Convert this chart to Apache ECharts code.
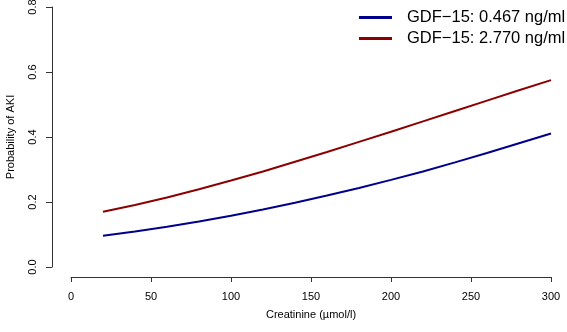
<!DOCTYPE html>
<html>
<head>
<meta charset="utf-8">
<script src="https://cdn.jsdelivr.net/npm/echarts@6/dist/echarts.min.js"></script>
<style>
  html, body { margin: 0; padding: 0; background: #fff; }
  #chart { width: 567px; height: 332px; }
</style>
</head>
<body>
<div id="chart"></div>
<script>
// creatinine values (umol/l) where the curves were read
var creatinine = [20, 40, 60, 80, 100, 120, 140, 160, 180, 200, 220, 240, 260, 280, 300];
// predicted probability of AKI for each GDF-15 level
var probLow  = [0.096, 0.109, 0.124, 0.140, 0.158, 0.177, 0.198, 0.220, 0.243, 0.268, 0.294, 0.322, 0.351, 0.381, 0.411];
var probHigh = [0.170, 0.191, 0.214, 0.239, 0.266, 0.294, 0.324, 0.354, 0.385, 0.416, 0.448, 0.480, 0.512, 0.544, 0.575];
var seriesNames = ['GDF\u221215: 0.467 ng/ml', 'GDF\u221215: 2.770 ng/ml'];
var seriesColors = ['#00008b', '#8b0000'];

var font = 'Liberation Sans, Arial, sans-serif';
var axisColor = '#333';

function pairs(xs, ys) {
  var out = [];
  for (var i = 0; i < xs.length; i++) {
    out.push([xs[i], ys[i]]);
  }
  return out;
}

var myChart = echarts.init(document.getElementById('chart'));
myChart.setOption({
  animation: false,
  backgroundColor: '#fff',
  grid: { left: 71, right: 16, top: 7, bottom: 65, outerBoundsMode: 'none' },
  legend: {
    orient: 'vertical',
    left: 359,
    top: 7,
    padding: 0,
    itemGap: 0,
    itemWidth: 33,
    itemHeight: 3,
    icon: 'rect',
    textStyle: {
      fontFamily: font,
      fontSize: 16.5,
      color: '#000',
      lineHeight: 21,
      padding: [0, 0, 0, 10]
    },
    data: seriesNames
  },
  xAxis: {
    type: 'value',
    min: 0,
    max: 300,
    interval: 50,
    offset: 10,
    name: 'Creatinine (\u00b5mol/l)',
    nameLocation: 'middle',
    nameGap: 32,
    nameMoveOverlap: false,
    nameTextStyle: { fontFamily: font, fontSize: 11, color: '#000' },
    axisLine: { show: true, onZero: false, lineStyle: { color: axisColor, width: 1 } },
    axisTick: { show: true, length: 5, lineStyle: { color: axisColor } },
    axisLabel: { fontFamily: font, fontSize: 11, color: '#000', margin: 14 },
    splitLine: { show: false }
  },
  yAxis: {
    type: 'value',
    min: 0,
    max: 0.8,
    interval: 0.2,
    offset: 19,
    name: 'Probability of AKI',
    nameLocation: 'middle',
    nameGap: 36,
    nameMoveOverlap: false,
    nameTextStyle: { fontFamily: font, fontSize: 11, color: '#000' },
    axisLine: { show: true, onZero: false, lineStyle: { color: axisColor, width: 1 } },
    axisTick: { show: true, length: 6, lineStyle: { color: axisColor } },
    axisLabel: {
      fontFamily: font,
      fontSize: 11,
      color: '#000',
      rotate: 90,
      margin: 14,
      formatter: function (v) { return v.toFixed(1); }
    },
    splitLine: { show: false }
  },
  series: [
    {
      name: seriesNames[0],
      type: 'line',
      showSymbol: false,
      color: seriesColors[0],
      lineStyle: { width: 2, color: seriesColors[0] },
      data: pairs(creatinine, probLow)
    },
    {
      name: seriesNames[1],
      type: 'line',
      showSymbol: false,
      color: seriesColors[1],
      lineStyle: { width: 2, color: seriesColors[1] },
      data: pairs(creatinine, probHigh)
    }
  ]
});
</script>
</body>
</html>
